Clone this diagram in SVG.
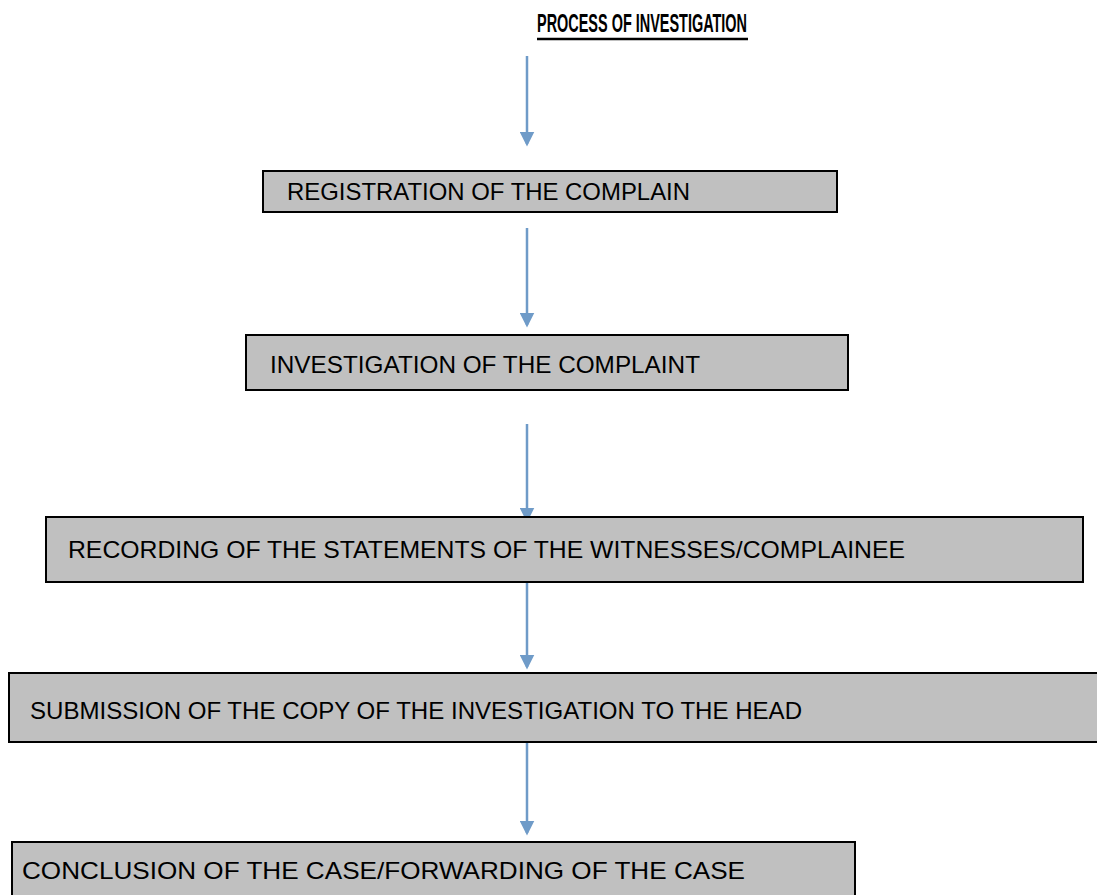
<svg xmlns="http://www.w3.org/2000/svg" width="1097" height="895" viewBox="0 0 1097 895">
<style>
.box{fill:#c0c0c0;stroke:#000;stroke-width:2}
.lbl{font-family:"Liberation Sans",Arial,sans-serif;font-size:24px;fill:#000}
.title{font-family:"Liberation Sans",Arial,sans-serif;font-size:25px;font-weight:bold;fill:#000}
.conn{stroke:#6f9bc8;stroke-width:2.5;fill:none;marker-end:url(#ah)}
</style>
<defs>
<marker id="ah" markerWidth="6" markerHeight="6" refX="5" refY="3" orient="auto" markerUnits="strokeWidth">
<path d="M0,0 L6,3 L0,6 Z" fill="#6f9bc8"/>
</marker>
</defs>
<rect width="1097" height="895" fill="#fff"/>
<g id="title">
<text class="title" x="537" y="32" textLength="210" lengthAdjust="spacingAndGlyphs">PROCESS OF INVESTIGATION</text>
<line x1="537" y1="39" x2="748" y2="39" stroke="#000" stroke-width="2.5"/>
</g>
<g id="connectors">
<line class="conn" x1="527" y1="56" x2="527" y2="144"/>
<line class="conn" x1="527" y1="228" x2="527" y2="325"/>
<line class="conn" x1="527" y1="424" x2="527" y2="520"/>
<line class="conn" x1="527" y1="578" x2="527" y2="667"/>
<line class="conn" x1="527" y1="742" x2="527" y2="833"/>
</g>
<g id="n1">
<rect class="box" x="263" y="171" width="574" height="41"/>
<text class="lbl" x="287" y="200" textLength="403" lengthAdjust="spacingAndGlyphs">REGISTRATION OF THE COMPLAIN</text>
</g>
<g id="n2">
<rect class="box" x="246" y="335" width="602" height="55"/>
<text class="lbl" x="270" y="373" textLength="430" lengthAdjust="spacingAndGlyphs">INVESTIGATION OF THE COMPLAINT</text>
</g>
<g id="n3">
<rect class="box" x="46" y="517" width="1037" height="65"/>
<text class="lbl" x="68" y="558" textLength="837" lengthAdjust="spacingAndGlyphs">RECORDING OF THE STATEMENTS OF THE WITNESSES/COMPLAINEE</text>
</g>
<g id="n4">
<rect class="box" x="9" y="673" width="1100" height="69"/>
<text class="lbl" x="30" y="719" textLength="772" lengthAdjust="spacingAndGlyphs">SUBMISSION OF THE COPY OF THE INVESTIGATION TO THE HEAD</text>
</g>
<g id="n5">
<rect class="box" x="12" y="842" width="843" height="70"/>
<text class="lbl" x="22" y="879" textLength="723" lengthAdjust="spacingAndGlyphs">CONCLUSION OF THE CASE/FORWARDING OF THE CASE</text>
</g>
</svg>
